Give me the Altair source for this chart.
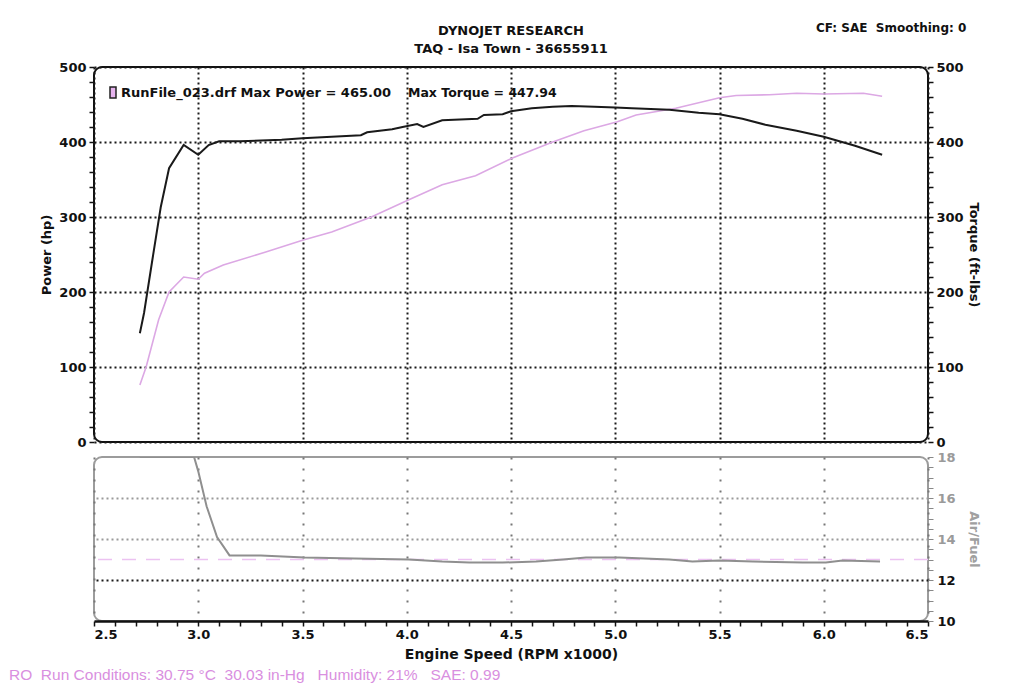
import altair as alt
import pandas as pd

# ---------------- data ----------------
rpm_torque = [2.72, 2.74, 2.78, 2.82, 2.86, 2.93, 3.00, 3.05, 3.10, 3.20, 3.30, 3.40, 3.50,
              3.64, 3.78, 3.81, 3.93, 3.98, 4.05, 4.08, 4.17, 4.34, 4.37, 4.46, 4.50, 4.60,
              4.70, 4.79, 4.90, 5.00, 5.08, 5.26, 5.40, 5.50, 5.61, 5.72, 5.87, 6.00, 6.15, 6.28]
torque = [145, 172, 243, 313, 365, 396, 383, 396, 401, 401, 402, 403, 405,
          407, 409, 413, 417, 420, 424, 420, 429, 431, 436, 437, 441, 445,
          447, 448, 447, 446, 445, 443, 439, 437, 431, 423, 415, 407, 395, 383]

rpm_power = [2.72, 2.75, 2.81, 2.86, 2.93, 3.00, 3.03, 3.12, 3.32, 3.50, 3.64, 3.83, 4.01, 4.17,
             4.33, 4.51, 4.70, 4.85, 5.01, 5.10, 5.29, 5.50, 5.58, 5.74, 5.87, 6.00, 6.19, 6.28]
power = [76, 100, 163, 200, 220, 217, 225, 236, 253, 269, 280, 300, 323, 343,
         355, 379, 400, 415, 427, 436, 445, 459, 462, 463, 465, 464, 465, 461]

rpm_afr = [2.72, 2.98, 3.00, 3.04, 3.09, 3.15, 3.30, 3.51, 3.75, 4.01, 4.17, 4.30, 4.46,
           4.62, 4.75, 4.86, 5.02, 5.26, 5.37, 5.50, 5.66, 5.90, 6.01, 6.09, 6.27]
afr = [18.0, 18.0, 17.3, 15.6, 14.1, 13.2, 13.2, 13.1, 13.05, 13.0, 12.9, 12.85, 12.85,
       12.9, 13.0, 13.1, 13.1, 13.0, 12.9, 12.95, 12.9, 12.85, 12.85, 12.95, 12.9]
afr_target = [13.0]

x_major = [2.5, 3.0, 3.5, 4.0, 4.5, 5.0, 5.5, 6.0, 6.5]
x_ticks = [round(2.5 + 0.1 * i, 1) for i in range(41)]
y_ticks = list(range(0, 501, 20))
afr_ticks = [10 + 0.5 * i for i in range(17)]

NB = "\u00a0"
title_text = "DYNOJET RESEARCH"
subtitle_text = "TAQ - Isa Town - 36655911"
cf_text = "CF: SAE" + NB + NB + "Smoothing: 0"
legend_power = "RunFile_023.drf Max Power = 465.00"
legend_torque = "Max Torque = 447.94"
conditions_text = ("RO" + NB * 2 + "Run Conditions: 30.75 °C" + NB * 2 + "30.03 in-Hg" + NB * 3
                   + "Humidity: 21%" + NB * 3 + "SAE: 0.99")

FONT = "DejaVu Sans"
W, H1, H2 = 834, 375, 164

tq_df = pd.DataFrame({"rpm": rpm_torque, "torque": torque})
hp_df = pd.DataFrame({"rpm": rpm_power, "power": power})
afr_df = pd.DataFrame({"rpm": rpm_afr, "afr": afr})
ref_df = pd.DataFrame({"afr": afr_target})

xscale = alt.Scale(domain=[2.5, 6.5], nice=False, zero=False)

main_x_axis = alt.Axis(values=x_major, labels=False, ticks=False, domain=False,
                       grid=True, gridColor="#1a1a1a", gridDash=[2, 3], gridWidth=2)

y_axis_common = dict(values=y_ticks, labelExpr="datum.value % 100 == 0 ? datum.label : ''",
                     tickSize=5, tickColor="#111", tickWidth=1.5, labelPadding=3,
                     domain=False, minExtent=33, maxExtent=33)

power_line = alt.Chart(hp_df).mark_line(color="#dca8e4", strokeWidth=1.6).encode(
    x=alt.X("rpm:Q", scale=xscale, title=None, axis=main_x_axis),
    y=alt.Y("power:Q", scale=alt.Scale(domain=[0, 500], nice=False), title="Power (hp)",
            axis=alt.Axis(orient="left", grid=True, gridColor="#1a1a1a", gridDash=[2, 3], gridWidth=2,
                          gridOpacity={"condition": {"test": "datum.value % 100 == 0", "value": 1}, "value": 0},
                          titlePadding=8, **y_axis_common)),
)

torque_line = alt.Chart(tq_df).mark_line(color="#1a1a1a", strokeWidth=2).encode(
    x=alt.X("rpm:Q", scale=xscale, title=None, axis=main_x_axis),
    y=alt.Y("torque:Q", scale=alt.Scale(domain=[0, 500], nice=False), title="Torque (ft-lbs)",
            axis=alt.Axis(orient="right", grid=False, titlePadding=5, **y_axis_common)),
)

txt = dict(font=FONT, fontWeight="bold", fontSize=13, color="#111", align="left", baseline="middle")

legend_icon = alt.Chart(pd.DataFrame({"k": [1]})).mark_rect(
    fill="#e6b3ee", stroke="#222", strokeWidth=1.5).encode(
    x=alt.value(16), x2=alt.value(22), y=alt.value(20), y2=alt.value(31))
legend_p = alt.Chart(pd.DataFrame({"t": [legend_power]})).mark_text(**txt).encode(
    x=alt.value(27), y=alt.value(26), text="t:N")
legend_t = alt.Chart(pd.DataFrame({"t": [legend_torque]})).mark_text(**{**txt, "fontSize": 12.5}).encode(
    x=alt.value(314), y=alt.value(26), text="t:N")
cf_note = alt.Chart(pd.DataFrame({"t": [cf_text]})).mark_text(**{**txt, "fontSize": 12}).encode(
    x=alt.value(722), y=alt.value(-39), text="t:N")
title_mark = alt.Chart(pd.DataFrame({"t": [title_text]})).mark_text(**{**txt, "align": "center"}).encode(
    x=alt.value(W / 2), y=alt.value(-36), text="t:N")
subtitle_mark = alt.Chart(pd.DataFrame({"t": [subtitle_text]})).mark_text(**{**txt, "align": "center"}).encode(
    x=alt.value(W / 2), y=alt.value(-18), text="t:N")

main = alt.layer(power_line, torque_line, legend_icon, legend_p, legend_t,
                 cf_note, title_mark, subtitle_mark).resolve_scale(
    y="independent"
).properties(
    width=W, height=H1,
    view=alt.ViewBackground(stroke="#111", strokeWidth=2, cornerRadius=8),
)

# ---------------- lower air/fuel panel ----------------
lower_x = alt.X("rpm:Q", scale=xscale, title="Engine Speed (RPM x1000)",
                axis=alt.Axis(values=x_ticks, format=".1f",
                              labelExpr="round(datum.value * 10) % 5 === 0 ? datum.label : ''",
                              tickSize=5, tickColor="#111", tickWidth=1.5,
                              domainColor="#111", domainWidth=2.5, labelPadding=2,
                              grid=True, gridColor="#777", gridDash=[2, 9], gridWidth=2,
                              gridOpacity={"condition": {"test": "round(datum.value * 10) % 5 === 0", "value": 1}, "value": 0},
                              titleFontSize=14, titlePadding=6))

afr_scale = alt.Scale(domain=[10, 18], nice=False, zero=False)
afr_axis = alt.Axis(orient="right", values=afr_ticks, format=".0f",
                    labelExpr="datum.value % 2 === 0 ? datum.label : ''",
                    tickSize=5, tickColor="#888", labelPadding=4, domain=False,
                    labelColor={"condition": {"test": "datum.value >= 13", "value": "#9a9a9a"}, "value": "#111"},
                    titleColor="#a0a0a0", titlePadding=12, minExtent=26, maxExtent=26,
                    grid=True, gridDash=[2, 3], gridWidth=2,
                    gridColor={"condition": {"test": "datum.value === 12", "value": "#1a1a1a"}, "value": "#9a9a9a"},
                    gridOpacity={"condition": {"test": "datum.value === 12 || datum.value === 14 || datum.value === 16", "value": 1}, "value": 0})

ref_rule = alt.Chart(ref_df).mark_rule(color="#ecc2f1", strokeDash=[14, 10], strokeWidth=1.5).encode(
    y=alt.Y("afr:Q", scale=afr_scale, title="Air/Fuel", axis=afr_axis))

afr_line = alt.Chart(afr_df).mark_line(color="#8f8f8f", strokeWidth=2, clip=True).encode(
    x=lower_x,
    y=alt.Y("afr:Q", scale=afr_scale, title="Air/Fuel", axis=afr_axis))

cond_note = alt.Chart(pd.DataFrame({"t": [conditions_text]})).mark_text(
    font="Liberation Sans", fontSize=15.5, color="#d98fe0", align="left", baseline="middle").encode(
    x=alt.value(-85), y=alt.value(218), text="t:N")

lower = alt.layer(ref_rule, afr_line, cond_note).properties(
    width=W, height=H2,
    view=alt.ViewBackground(stroke="#9c9c9c", strokeWidth=2, cornerRadius=8),
)

chart = alt.vconcat(main, lower, spacing=0).properties(
    padding={"left": 0, "top": 13, "right": 5, "bottom": 0},
    background="white",
).configure_axis(
    labelFont=FONT, labelFontSize=13, labelFontWeight="bold", labelColor="#111",
    titleFont=FONT, titleFontSize=13, titleFontWeight="bold", titleColor="#111",
)

chart.save("out.html", embed_options={"renderer": "svg", "actions": False})
